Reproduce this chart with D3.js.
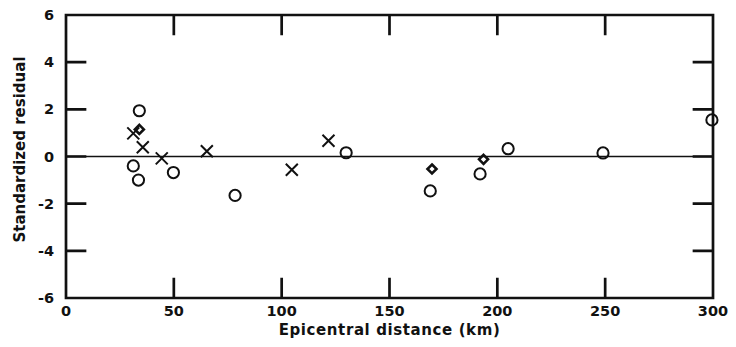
<!DOCTYPE html>
<html>
<head>
<meta charset="utf-8">
<script src="https://cdn.jsdelivr.net/npm/d3@7"></script>
<style>
  html, body { margin: 0; padding: 0; background: #fff; }
  svg text { font-family: "DejaVu Sans", sans-serif; font-weight: bold; fill: #111; }
</style>
</head>
<body>
<svg id="chart" width="736" height="347"></svg>
<script>
// Standardized residuals vs. epicentral distance, three station groups
const circleDist  = [34, 31.2, 33.6, 49.8, 78.4, 129.9, 168.9, 192, 205, 249, 299.5];
const circleResid = [1.94, -0.40, -1.0, -0.68, -1.65, 0.16, -1.46, -0.74, 0.33, 0.15, 1.55];

const crossDist  = [31.2, 35.6, 44.4, 65.3, 104.7, 121.7];
const crossResid = [0.98, 0.39, -0.08, 0.22, -0.56, 0.67];

const diamondDist  = [34, 169.7, 193.6];
const diamondResid = [1.15, -0.53, -0.12];

const xTicks = [0, 50, 100, 150, 200, 250, 300];
const yTicks = [-6, -4, -2, 0, 2, 4, 6];

const svg = d3.select("#chart");
const plotL = 66, plotR = 713, plotT = 15, plotB = 298;
const x = d3.scaleLinear().domain([0, 300]).range([plotL, plotR]);
const y = d3.scaleLinear().domain([-6, 6]).range([plotB, plotT]);
const tickLen = 19;
const ink = "#111";

// frame with inward tick marks on all four sides, as one outline
const frame = d3.path();
frame.moveTo(plotL, plotT);
frame.lineTo(plotR, plotT);
frame.lineTo(plotR, plotB);
frame.lineTo(plotL, plotB);
frame.closePath();
xTicks.forEach(v => {
  frame.moveTo(x(v), plotB); frame.lineTo(x(v), plotB - tickLen);
  frame.moveTo(x(v), plotT); frame.lineTo(x(v), plotT + tickLen);
});
yTicks.forEach(v => {
  frame.moveTo(plotL, y(v)); frame.lineTo(plotL + tickLen, y(v));
  frame.moveTo(plotR, y(v)); frame.lineTo(plotR - tickLen, y(v));
});
svg.append("path")
  .attr("d", frame.toString())
  .attr("fill", "none").attr("stroke", ink).attr("stroke-width", 2.7)
  .attr("stroke-linecap", "square");

// zero reference line
svg.append("path")
  .attr("d", `M${x(0)},${y(0)}H${x(300)}`)
  .attr("stroke", ink).attr("stroke-width", 1.4);

// tick labels
svg.append("g").selectAll("text").data(xTicks).join("text")
  .attr("x", d => x(d)).attr("y", plotB + 18)
  .attr("text-anchor", "middle").attr("font-size", 14.5)
  .text(d => d);
svg.append("g").selectAll("text").data(yTicks).join("text")
  .attr("x", plotL - 12).attr("y", d => y(d) + 5)
  .attr("text-anchor", "end").attr("font-size", 14.5)
  .text(d => d);

// axis titles
svg.append("text")
  .attr("x", (plotL + plotR) / 2).attr("y", plotB + 37)
  .attr("text-anchor", "middle").attr("font-size", 15)
  .attr("letter-spacing", 0.6)
  .text("Epicentral distance (km)");
svg.append("text")
  .attr("transform", `translate(25,${(plotT + plotB) / 2 - 7}) rotate(-90)`)
  .attr("text-anchor", "middle").attr("font-size", 15)
  .text("Standardized residual");

// markers
const circles = circleDist.map((d, i) => [d, circleResid[i]]);
const crosses = crossDist.map((d, i) => [d, crossResid[i]]);
const diamonds = diamondDist.map((d, i) => [d, diamondResid[i]]);

svg.append("g").selectAll("circle").data(circles).join("circle")
  .attr("cx", d => x(d[0])).attr("cy", d => y(d[1])).attr("r", 5.6)
  .attr("fill", "none").attr("stroke", ink).attr("stroke-width", 2);

const cs = 6;
svg.append("g").selectAll("path").data(crosses).join("path")
  .attr("transform", d => `translate(${x(d[0])},${y(d[1])})`)
  .attr("d", `M${-cs},${-cs}L${cs},${cs}M${-cs},${cs}L${cs},${-cs}`)
  .attr("fill", "none").attr("stroke", ink).attr("stroke-width", 2);

const ds = 4.5;
svg.append("g").selectAll("path").data(diamonds).join("path")
  .attr("transform", d => `translate(${x(d[0])},${y(d[1])})`)
  .attr("d", `M0,${-ds}L${ds},0L0,${ds}L${-ds},0Z`)
  .attr("fill", "none").attr("stroke", ink).attr("stroke-width", 2.6);
</script>
</body>
</html>
